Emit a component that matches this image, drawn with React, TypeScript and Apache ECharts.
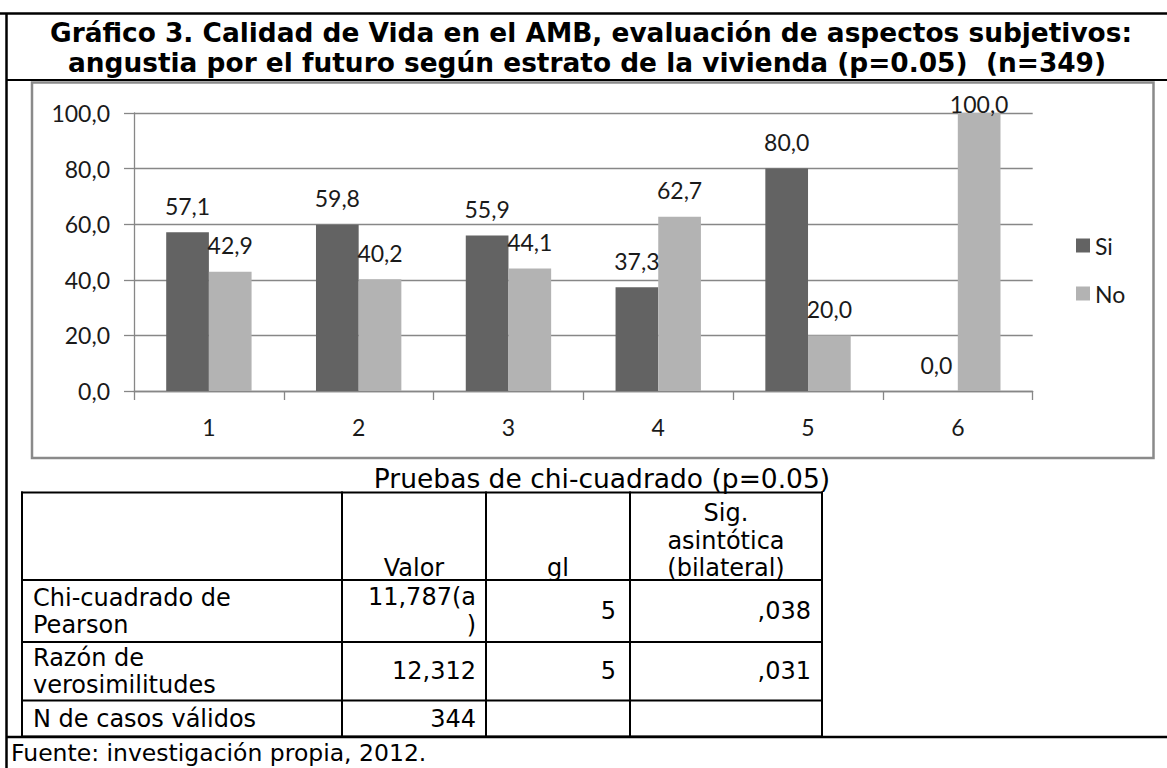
import React, { useEffect, useRef } from "react";
import * as echarts from "echarts";

const titleLines = [
  "Gráfico 3. Calidad de Vida en el AMB, evaluación de aspectos subjetivos:",
  "angustia por el futuro según estrato de la vivienda (p=0.05)  (n=349)",
];
const categories = ["1", "2", "3", "4", "5", "6"];
const siValues = [57.1, 59.8, 55.9, 37.3, 80.0, 0.0];
const noValues = [42.9, 40.2, 44.1, 62.7, 20.0, 100.0];
const seriesNames = ["Si", "No"];
const yMin = 0;
const yMax = 100;
const yInterval = 20;

const tableTitle = "Pruebas de chi-cuadrado (p=0.05)";
const headerValor = "Valor";
const headerGl = "gl";
const headerSig = ["Sig.", "asintótica", "(bilateral)"];
const rowLabels = [["Chi-cuadrado de", "Pearson"], ["Razón de", "verosimilitudes"], ["N de casos válidos"]];
const rowValor = [["11,787(a", ")"], ["12,312"], ["344"]];
const rowGl = ["5", "5", ""];
const rowSig = [",038", ",031", ""];
const sourceText = "Fuente: investigación propia, 2012.";

const fmt = (v: number) => v.toFixed(1).replace(".", ",");

export default function App() {
  const ref = useRef<HTMLDivElement>(null);
  useEffect(() => {
    if (!ref.current) return;
    const chart = echarts.init(ref.current, null, { renderer: "svg" });
    const chartFont = "Lato";
    const tFont = "DejaVu Sans";
    const labelColor = "#1a1a1a";
    const axisGray = "#878787";

    const mkData = (vals: number[]) =>
      vals.map((v) => (v >= yMax ? { value: v, label: { distance: -2 } } : v));

    const graphics: any[] = [];
    const line = (x1: number, y1: number, x2: number, y2: number, w = 2, color = "#000") =>
      graphics.push({ type: "line", silent: true, z: 100, shape: { x1, y1, x2, y2 }, style: { stroke: color, lineWidth: w } });
    const text = (t: string, x: number, y: number, align: string, size = 24, weight = "normal") =>
      graphics.push({
        type: "text",
        silent: true,
        z: 100,
        style: { text: t, x, y, textAlign: align, textVerticalAlign: "middle", font: `${weight} ${size}px "${tFont}"`, fill: "#000" },
      });

    // outer frame
    line(0, 13.5, 1167, 13.5, 2.5);
    line(6.5, 13, 6.5, 768, 2.5);
    line(6.5, 80, 1167, 80, 2);
    line(6.5, 737, 1167, 737, 2.5);
    // title
    text(titleLines[0], 591, 32, "center", 26.4, "bold");
    text(titleLines[1], 587, 62, "center", 26.4, "bold");
    // chart box
    graphics.push({
      type: "rect",
      silent: true,
      z: 100,
      shape: { x: 32, y: 82.5, width: 1121.5, height: 375.5 },
      style: { fill: "none", stroke: "#8a8a8a", lineWidth: 2.5 },
    });
    // table
    const tx = [22, 342, 486, 630, 822];
    const ty = [492.5, 580, 642, 700.5, 736.5];
    text(tableTitle, 602, 478, "center", 26.5);
    ty.forEach((y) => line(tx[0] - 1, y, tx[4] + 1, y, 2));
    tx.forEach((x) => line(x, ty[0] - 1, x, ty[4] + 1, 2));
    text(headerValor, (tx[1] + tx[2]) / 2, 568, "center");
    text(headerGl, (tx[2] + tx[3]) / 2, 568, "center");
    headerSig.forEach((s, i) => text(s, (tx[3] + tx[4]) / 2, 513 + i * 27.5, "center"));
    rowLabels.forEach((lines, r) => {
      const top = ty[r + 1];
      const bot = ty[r + 2];
      const mid = (top + bot) / 2;
      lines.forEach((l, i) => text(l, 33, mid + (i - (lines.length - 1) / 2) * 27, "left"));
      const vals = rowValor[r];
      vals.forEach((l, i) => text(l, tx[2] - 10, mid + (i - (vals.length - 1) / 2) * 28, "right"));
      if (rowGl[r]) text(rowGl[r], tx[3] - 14, mid, "right");
      if (rowSig[r]) text(rowSig[r], tx[4] - 11, mid, "right");
    });
    text(sourceText, 11, 753, "left", 23.5);

    const option: any = {
      animation: false,
      backgroundColor: "#ffffff",
      grid: { left: 134, right: 134.3, top: 113, bottom: 377, containLabel: false },
      legend: {
        orient: "vertical",
        left: 1071,
        top: 229,
        itemWidth: 14,
        itemHeight: 14,
        itemGap: 25,
        icon: "rect",
        textStyle: { fontFamily: chartFont, fontSize: 23, color: labelColor },
        data: seriesNames,
      },
      xAxis: {
        type: "category",
        data: categories,
        axisLine: { lineStyle: { color: axisGray, width: 1.3 } },
        axisTick: { show: true, length: 9, lineStyle: { color: axisGray, width: 1.3 } },
        axisLabel: { fontFamily: chartFont, fontSize: 23, color: labelColor, margin: 24 },
      },
      yAxis: {
        type: "value",
        min: yMin,
        max: yMax,
        interval: yInterval,
        axisLine: { show: true, lineStyle: { color: axisGray, width: 1.3 } },
        axisTick: { show: true, length: 10, lineStyle: { color: axisGray, width: 1.3 } },
        splitLine: { lineStyle: { color: axisGray, width: 1.3 } },
        axisLabel: { fontFamily: chartFont, fontSize: 23, color: labelColor, margin: 24, formatter: (v: number) => fmt(v) },
      },
      series: [
        {
          name: seriesNames[0],
          type: "bar",
          data: mkData(siValues),
          barGap: "0%",
          barCategoryGap: "43%",
          itemStyle: { color: "#636363" },
          label: { show: true, position: "top", distance: 15, fontFamily: chartFont, fontSize: 23, color: labelColor, formatter: (p: any) => fmt(p.value) },
        },
        {
          name: seriesNames[1],
          type: "bar",
          data: mkData(noValues),
          barGap: "0%",
          barCategoryGap: "43%",
          itemStyle: { color: "#b3b3b3" },
          label: { show: true, position: "top", distance: 15, fontFamily: chartFont, fontSize: 23, color: labelColor, formatter: (p: any) => fmt(p.value) },
        },
      ],
      graphic: graphics,
    };
    chart.setOption(option);
    return () => chart.dispose();
  }, []);
  return <div ref={ref} style={{ position: "absolute", left: 0, top: 0, width: 1167, height: 768, background: "#fff" }} />;
}
